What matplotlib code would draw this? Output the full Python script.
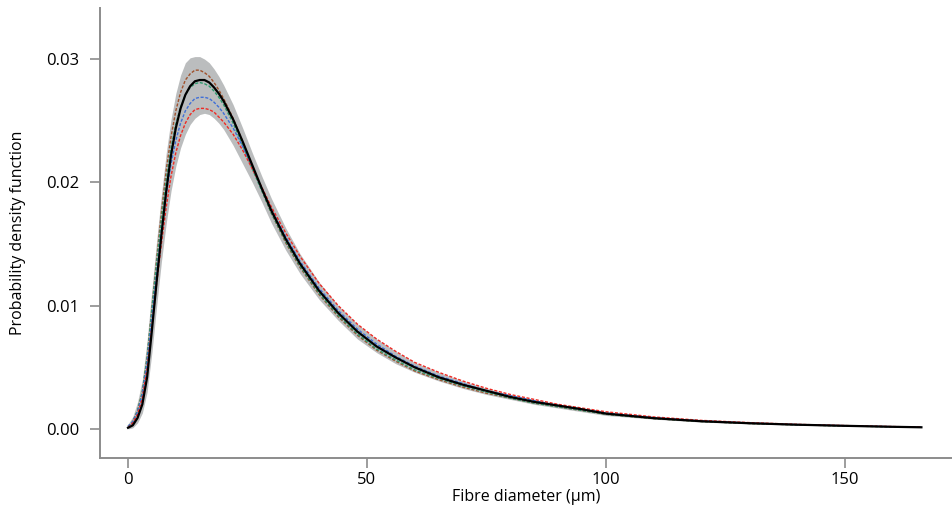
import matplotlib
matplotlib.use("Agg")
import matplotlib.pyplot as plt
import numpy as np

plt.rcParams['font.family'] = ['Open Sans', 'DejaVu Sans']

x = [0, 1, 2, 3, 4, 5, 6, 7, 8, 9, 10, 11, 12, 13, 14, 15, 16, 17, 18, 19, 20,
     22, 24, 26, 28, 30, 33, 36, 40, 44, 48, 52, 56, 60, 65, 70, 75, 80, 85, 90,
     95, 100, 110, 120, 130, 140, 150, 160, 166]

black = [0.0001, 0.0003, 0.0009, 0.0020, 0.0042, 0.0080, 0.0120, 0.0158, 0.0193, 0.0222,
         0.0244, 0.0260, 0.0271, 0.0278, 0.0282, 0.0283, 0.0283, 0.0281, 0.0277, 0.0272,
         0.0266, 0.0251, 0.0233, 0.0214, 0.0195, 0.0177, 0.0154, 0.0134, 0.0112, 0.0094,
         0.0079, 0.0067, 0.0058, 0.0050, 0.0042, 0.0036, 0.0031, 0.0026, 0.0022, 0.0019,
         0.0016, 0.00125, 0.00088, 0.00063, 0.00047, 0.00035, 0.00026, 0.00018, 0.00014]

brown = [0.0002, 0.0006, 0.0015, 0.0030, 0.0058, 0.0098, 0.0138, 0.0176, 0.0210, 0.0237,
         0.0258, 0.0273, 0.0283, 0.0288, 0.0291, 0.0291, 0.0289, 0.0286, 0.0281, 0.0275,
         0.0268, 0.0252, 0.0233, 0.0213, 0.0194, 0.0175, 0.0151, 0.0131, 0.0109, 0.0091,
         0.0076, 0.0064, 0.0055, 0.0047, 0.0040, 0.0034, 0.0029, 0.0025, 0.0021, 0.0018,
         0.0015, 0.0012, 0.00085, 0.00061, 0.00045, 0.00034, 0.00025, 0.00018, 0.00014]

green = [0.0002, 0.0006, 0.0015, 0.0030, 0.0058, 0.0097, 0.0135, 0.0170, 0.0202, 0.0228,
         0.0247, 0.0261, 0.0271, 0.0277, 0.0280, 0.0281, 0.0280, 0.0278, 0.0274, 0.0269,
         0.0263, 0.0248, 0.0230, 0.0211, 0.0193, 0.0175, 0.0152, 0.0132, 0.0110, 0.0092,
         0.0077, 0.0065, 0.0056, 0.0048, 0.0041, 0.0035, 0.0030, 0.0025, 0.0021, 0.0018,
         0.0015, 0.0012, 0.00085, 0.00061, 0.00045, 0.00034, 0.00025, 0.00018, 0.00014]

blue = [0.0002, 0.0006, 0.0014, 0.0028, 0.0054, 0.0090, 0.0126, 0.0160, 0.0190, 0.0215,
        0.0234, 0.0248, 0.0258, 0.0264, 0.0268, 0.0269, 0.0269, 0.0268, 0.0265, 0.0261,
        0.0256, 0.0244, 0.0229, 0.0212, 0.0195, 0.0178, 0.0156, 0.0136, 0.0114, 0.0096,
        0.0081, 0.0069, 0.0059, 0.0051, 0.0043, 0.0037, 0.0031, 0.0027, 0.0023, 0.0019,
        0.0016, 0.0013, 0.00092, 0.00066, 0.00049, 0.00036, 0.00027, 0.00019, 0.00015]

red = [0.0001, 0.0005, 0.0012, 0.0025, 0.0049, 0.0083, 0.0118, 0.0151, 0.0180, 0.0205,
       0.0224, 0.0238, 0.0248, 0.0255, 0.0259, 0.0260, 0.0260, 0.0259, 0.0257, 0.0253,
       0.0249, 0.0239, 0.0226, 0.0211, 0.0196, 0.0180, 0.0159, 0.0140, 0.0118, 0.0100,
       0.0085, 0.0073, 0.0063, 0.0054, 0.0046, 0.0039, 0.0033, 0.0028, 0.0024, 0.0020,
       0.0017, 0.0014, 0.00098, 0.00070, 0.00052, 0.00038, 0.00028, 0.00020, 0.00016]

band_upper = [0.0004, 0.0010, 0.0022, 0.0040, 0.0072, 0.0113, 0.0153, 0.0190, 0.0224, 0.0251,
              0.0272, 0.0287, 0.0297, 0.0301, 0.0302, 0.0302, 0.0300, 0.0297, 0.0292, 0.0286,
              0.0279, 0.0263, 0.0244, 0.0224, 0.0205, 0.0187, 0.0163, 0.0142, 0.0119, 0.0100,
              0.0085, 0.0073, 0.0063, 0.0054, 0.0046, 0.0039, 0.0033, 0.0028, 0.0024, 0.0020,
              0.0017, 0.0014, 0.0010, 0.00072, 0.00054, 0.0004, 0.0003, 0.00021, 0.00017]

band_lower = [0.0000, 0.0001, 0.0005, 0.0013, 0.0030, 0.0062, 0.0100, 0.0136, 0.0167, 0.0193,
              0.0213, 0.0228, 0.0239, 0.0247, 0.0252, 0.0255, 0.0256, 0.0255, 0.0252, 0.0248,
              0.0243, 0.0230, 0.0215, 0.0200, 0.0184, 0.0167, 0.0145, 0.0126, 0.0105, 0.0088,
              0.0073, 0.0062, 0.0053, 0.0046, 0.0039, 0.0033, 0.0028, 0.0024, 0.0020, 0.0017,
              0.0014, 0.0011, 0.0008, 0.00056, 0.00042, 0.00031, 0.00023, 0.00016, 0.00012]

x_ticks = [0, 50, 100, 150]
y_ticks = [0.00, 0.01, 0.02, 0.03]
y_ticklabels = ["0.00", "0.01", "0.02", "0.03"]

fig = plt.figure(figsize=(9.52, 5.08), dpi=100)
ax = fig.add_axes([100 / 952, 1 - 458 / 508, 1 - 100 / 952, (458 - 8) / 508])

ax.fill_between(x, band_lower, band_upper, color="#bbbdbe", lw=0, zorder=1)
dash = (0, (2.2, 1.2))
ax.plot(x, brown, color="#a0522d", lw=1.0, linestyle=dash, zorder=3)
ax.plot(x, green, color="#2e9a6e", lw=1.0, linestyle=dash, zorder=3)
ax.plot(x, blue, color="#3f6fd8", lw=1.0, linestyle=dash, zorder=3)
ax.plot(x, red, color="#ee2a24", lw=1.0, linestyle=dash, zorder=3)
ax.plot(x, black, color="black", lw=1.6, zorder=4)

ax.set_xlim(-5.86, 172.4)
ax.set_ylim(-0.00235, 0.03414)

for s in ["top", "right"]:
    ax.spines[s].set_visible(False)
for s in ["left", "bottom"]:
    ax.spines[s].set_color("#8c8c8c")
    ax.spines[s].set_linewidth(1.4)

ax.set_xticks(x_ticks)
ax.set_yticks(y_ticks)
ax.set_yticklabels(y_ticklabels)
ax.tick_params(axis="both", colors="#8c8c8c", length=7, width=1.2, labelsize=12,
               labelcolor="black")
ax.tick_params(axis="x", pad=3)
ax.tick_params(axis="y", pad=8)

ax.set_xlabel("Fibre diameter (μm)", fontsize=11.5, labelpad=1)
ax.set_ylabel("Probability density function", fontsize=11.5, labelpad=14)

fig.savefig("out.png", dpi=100)
